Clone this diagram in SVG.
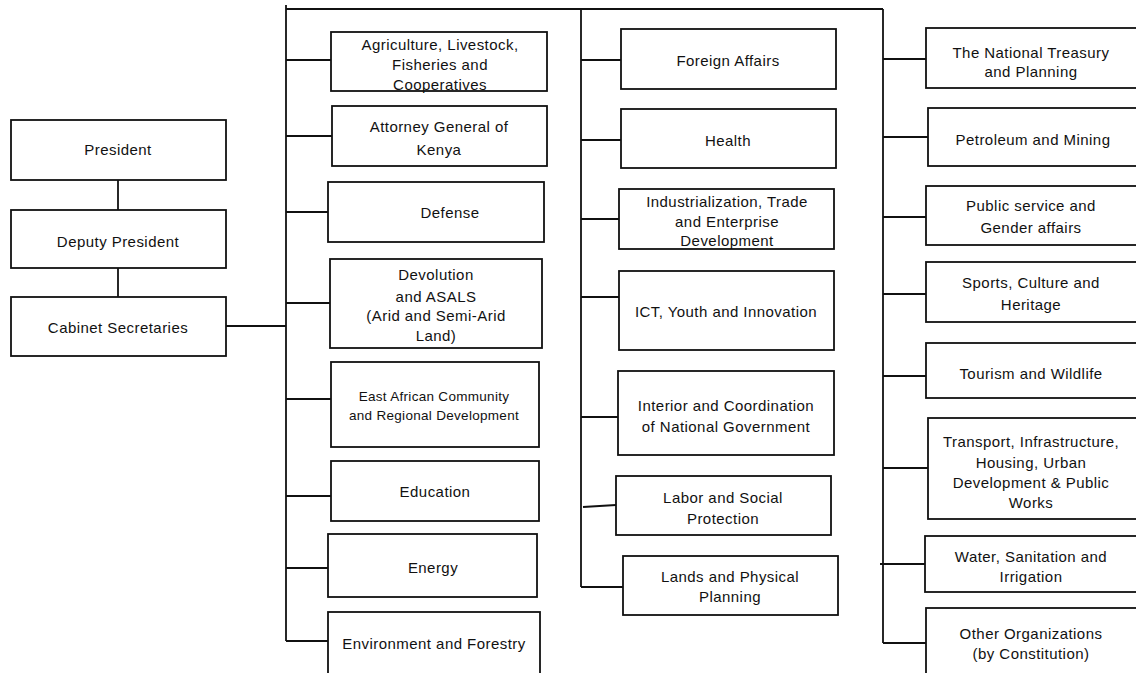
<svg xmlns="http://www.w3.org/2000/svg" width="1136" height="673" viewBox="0 0 1136 673">
  <style>
    .box { fill: #ffffff; stroke: #111111; stroke-width: 1.8; }
    .link { fill: none; stroke: #111111; stroke-width: 1.8; }
    text { font-family: "Liberation Sans", Arial, sans-serif; font-size: 15px; letter-spacing: 0.45px; fill: #111111; text-anchor: middle; }
    .small { font-size: 13.5px; letter-spacing: 0.3px; }
  </style>
  <rect width="1136" height="673" fill="#ffffff"/>

  <!-- connectors -->
  <g id="connectors">
    <line class="link" x1="118" y1="180" x2="118" y2="210"/>
    <line class="link" x1="118" y1="268" x2="118" y2="297"/>
    <line class="link" x1="226" y1="326" x2="286" y2="326"/>
    <!-- top bar and trunks -->
    <line class="link" x1="286" y1="9" x2="883" y2="9"/>
    <line class="link" x1="286" y1="5" x2="286" y2="641"/>
    <line class="link" x1="581" y1="9" x2="581" y2="587"/>
    <line class="link" x1="883" y1="9" x2="883" y2="643"/>
    <!-- first column branches -->
    <line class="link" x1="286" y1="60" x2="331" y2="60"/>
    <line class="link" x1="286" y1="136" x2="332" y2="136"/>
    <line class="link" x1="286" y1="212" x2="328" y2="212"/>
    <line class="link" x1="286" y1="303" x2="330" y2="303"/>
    <line class="link" x1="286" y1="399" x2="331" y2="399"/>
    <line class="link" x1="286" y1="496" x2="331" y2="496"/>
    <line class="link" x1="286" y1="568" x2="328" y2="568"/>
    <line class="link" x1="286" y1="641" x2="328" y2="641"/>
    <!-- second column branches -->
    <line class="link" x1="581" y1="60" x2="621" y2="60"/>
    <line class="link" x1="581" y1="140" x2="621" y2="140"/>
    <line class="link" x1="581" y1="219" x2="619" y2="219"/>
    <line class="link" x1="581" y1="297" x2="619" y2="297"/>
    <line class="link" x1="581" y1="417" x2="618" y2="417"/>
    <line class="link" x1="583" y1="507" x2="616" y2="505"/>
    <line class="link" x1="581" y1="587" x2="623" y2="587"/>
    <!-- third column branches -->
    <line class="link" x1="883" y1="59" x2="926" y2="59"/>
    <line class="link" x1="883" y1="137" x2="928" y2="137"/>
    <line class="link" x1="883" y1="217" x2="926" y2="217"/>
    <line class="link" x1="883" y1="294" x2="926" y2="294"/>
    <line class="link" x1="883" y1="376" x2="926" y2="376"/>
    <line class="link" x1="883" y1="468" x2="928" y2="468"/>
    <line class="link" x1="880" y1="564" x2="925" y2="564"/>
    <line class="link" x1="883" y1="643" x2="926" y2="643"/>
  </g>

  <!-- leadership -->
  <g id="president"><rect class="box" x="11" y="120" width="215" height="60"/><text x="118" y="155">President</text></g>
  <g id="deputy-president"><rect class="box" x="11" y="210" width="215" height="58"/><text x="118" y="247">Deputy President</text></g>
  <g id="cabinet-secretaries"><rect class="box" x="11" y="297" width="215" height="59"/><text x="118" y="333">Cabinet Secretaries</text></g>

  <!-- first column -->
  <g id="agriculture"><rect class="box" x="331" y="32" width="216" height="59"/>
    <text x="440" y="50">Agriculture, Livestock,</text><text x="440" y="70">Fisheries and</text><text x="440" y="90">Cooperatives</text></g>
  <g id="attorney-general"><rect class="box" x="332" y="106" width="215" height="60"/>
    <text x="439" y="132">Attorney General of</text><text x="439" y="155">Kenya</text></g>
  <g id="defense"><rect class="box" x="328" y="182" width="216" height="60"/><text x="450" y="218">Defense</text></g>
  <g id="devolution"><rect class="box" x="330" y="259" width="212" height="89"/>
    <text x="436" y="280">Devolution</text><text x="436" y="302">and ASALS</text><text x="436" y="321">(Arid and Semi-Arid</text><text x="436" y="341">Land)</text></g>
  <g id="east-african-community"><rect class="box" x="331" y="362" width="208" height="85"/>
    <text class="small" x="434" y="401">East African Community</text><text class="small" x="434" y="420">and Regional Development</text></g>
  <g id="education"><rect class="box" x="331" y="461" width="208" height="60"/><text x="435" y="497">Education</text></g>
  <g id="energy"><rect class="box" x="328" y="534" width="209" height="63"/><text x="433" y="573">Energy</text></g>
  <g id="environment"><rect class="box" x="328" y="612" width="212" height="63"/><text x="434" y="649">Environment and Forestry</text></g>

  <!-- second column -->
  <g id="foreign-affairs"><rect class="box" x="621" y="29" width="215" height="60"/><text x="728" y="66">Foreign Affairs</text></g>
  <g id="health"><rect class="box" x="621" y="109" width="215" height="59"/><text x="728" y="146">Health</text></g>
  <g id="industrialization"><rect class="box" x="619" y="189" width="215" height="60"/>
    <text x="727" y="207">Industrialization, Trade</text><text x="727" y="227">and Enterprise</text><text x="727" y="246">Development</text></g>
  <g id="ict"><rect class="box" x="619" y="271" width="215" height="79"/><text x="726" y="317">ICT, Youth and Innovation</text></g>
  <g id="interior"><rect class="box" x="618" y="371" width="216" height="84"/>
    <text x="726" y="411">Interior and Coordination</text><text x="726" y="432">of National Government</text></g>
  <g id="labor"><rect class="box" x="616" y="476" width="215" height="59"/>
    <text x="723" y="503">Labor and Social</text><text x="723" y="524">Protection</text></g>
  <g id="lands"><rect class="box" x="623" y="556" width="215" height="59"/>
    <text x="730" y="582">Lands and Physical</text><text x="730" y="602">Planning</text></g>

  <!-- third column -->
  <g id="treasury"><rect class="box" x="926" y="28" width="230" height="60"/>
    <text x="1031" y="58">The National Treasury</text><text x="1031" y="77">and Planning</text></g>
  <g id="petroleum"><rect class="box" x="928" y="108" width="230" height="58"/><text x="1033" y="145">Petroleum and Mining</text></g>
  <g id="public-service"><rect class="box" x="926" y="186" width="230" height="59"/>
    <text x="1031" y="211">Public service and</text><text x="1031" y="233">Gender affairs</text></g>
  <g id="sports"><rect class="box" x="926" y="262" width="230" height="60"/>
    <text x="1031" y="288">Sports, Culture and</text><text x="1031" y="310">Heritage</text></g>
  <g id="tourism"><rect class="box" x="926" y="343" width="230" height="55"/><text x="1031" y="379">Tourism and Wildlife</text></g>
  <g id="transport"><rect class="box" x="928" y="418" width="230" height="101"/>
    <text x="1031" y="447">Transport, Infrastructure,</text><text x="1031" y="468">Housing, Urban</text><text x="1031" y="488">Development &amp; Public</text><text x="1031" y="508">Works</text></g>
  <g id="water"><rect class="box" x="925" y="536" width="230" height="56"/>
    <text x="1031" y="562">Water, Sanitation and</text><text x="1031" y="582">Irrigation</text></g>
  <g id="other-organizations"><rect class="box" x="926" y="608" width="230" height="80"/>
    <text x="1031" y="639">Other Organizations</text><text x="1031" y="659">(by Constitution)</text></g>
</svg>
